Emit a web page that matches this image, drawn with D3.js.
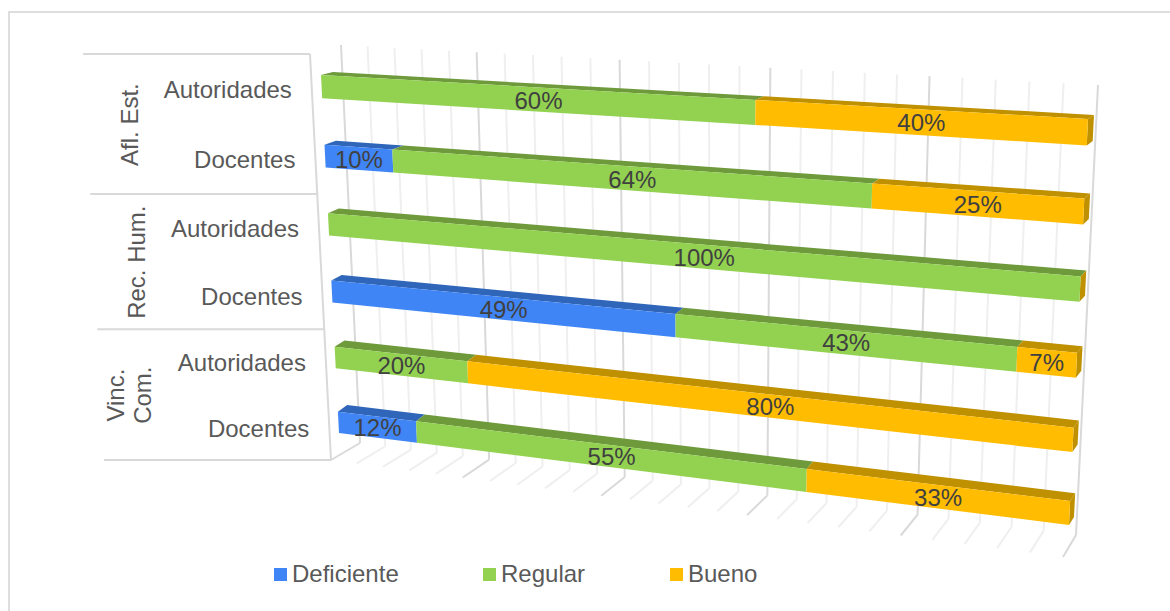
<!DOCTYPE html>
<html>
<head>
<meta charset="utf-8">
<script src="https://cdnjs.cloudflare.com/ajax/libs/d3/7.8.5/d3.min.js"></script>
<style>
  html, body { margin: 0; padding: 0; background: #fff; overflow: hidden; }
  svg { display: block; }
  text { font-family: "Liberation Sans", Arial, sans-serif; }
</style>
</head>
<body>
<svg id="chart" width="1170" height="611"></svg>
<script>
// Survey results, one row per respondent type within each dimension
const rows = ["Autoridades", "Docentes", "Autoridades", "Docentes", "Autoridades", "Docentes"];
const rowKeys = ["a0", "d0", "a1", "d1", "a2", "d2"];
const groups = [["Afl. Est."], ["Rec. Hum."], ["Vinc.", "Com."]];
const seriesNames = ["Deficiente", "Regular", "Bueno"];
const deficiente = [0, 10, 0, 49, 0, 12];
const regular = [60, 64, 100, 43, 20, 55];
const bueno = [40, 25, 0, 7, 80, 33];
const gridTicks = d3.range(0, 101, 4);
const majorEvery = 5;

const frontColors = ["#4085F5", "#92D250", "#FFBC00"];
const topColors = ["#2F66B9", "#6E9A3C", "#BF9000"];
const sideColor = "#BF9000";
const gridMinor = "#EFEFEF";
const gridMajor = "#D9D9D9";
const textDark = "#404040";
const textAxis = "#595959";
const fontSize = 24;

// Maps the unit square onto a quadrilateral [tl, tr, br, bl] with a projective transform
function projective([p0, p1, p2, p3]) {
  const dx1 = p1[0] - p2[0], dx2 = p3[0] - p2[0], sx = p0[0] - p1[0] + p2[0] - p3[0];
  const dy1 = p1[1] - p2[1], dy2 = p3[1] - p2[1], sy = p0[1] - p1[1] + p2[1] - p3[1];
  const det = dx1 * dy2 - dx2 * dy1;
  const g = (sx * dy2 - dx2 * sy) / det;
  const h = (dx1 * sy - sx * dy1) / det;
  const a = p1[0] - p0[0] + g * p1[0], b = p3[0] - p0[0] + h * p3[0], c = p0[0];
  const d = p1[1] - p0[1] + g * p1[1], e = p3[1] - p0[1] + h * p3[1], f = p0[1];
  return (u, v) => {
    const w = g * u + h * v + 1;
    return [(a * u + b * v + c) / w, (d * u + e * v + f) / w];
  };
}

// Planes of the 3D scene: back wall, front edge of the floor, and the bar faces
const wallBack = projective([[341, 45], [1098, 85], [1076, 535], [360, 443]]);
const wallFront = projective([[310, 54], [1083, 97], [1063, 557], [331, 460]]);
const barFront = projective([[321, 75], [1088, 119], [1069, 525], [339, 433]]);
const barBack = projective([[333, 72], [1094, 115], [1074, 517], [348, 426]]);

const x = d3.scaleLinear().domain([0, 100]).range([0, 1]);
const axisY = d3.scaleBand().domain(rowKeys).range([0, 1]);
// Bars leave a wide gap; the top of the first bar and bottom of the last span the full plane
const barY = d3.scaleBand().domain(rowKeys).range([0, 1]).paddingInner(0.67).paddingOuter(0);

const table = rowKeys.map((key, i) => ({
  key, Deficiente: deficiente[i], Regular: regular[i], Bueno: bueno[i]
}));
const stacked = d3.stack().keys(seriesNames).offset(d3.stackOffsetExpand)(table);

const svg = d3.select("#chart");
const line = d3.line();
const poly = pts => line(pts) + "Z";

// Chart frame: only the top and left edges fall inside the page
svg.append("path")
  .attr("d", line([[9, 611], [9, 12], [1170, 12]]))
  .attr("fill", "none").attr("stroke", "#DEDEDE").attr("stroke-width", 2);

// Grid on the back wall and floor
const grid = svg.append("g").attr("fill", "none");
gridTicks.forEach((t, i) => {
  const u = x(t), major = i % majorEvery === 0;
  grid.append("path")
    .attr("d", line([wallBack(u, 0), wallBack(u, 1)]) + "M" + wallBack(u, 1) + "L" + wallFront(u, 1))
    .attr("stroke", major ? gridMajor : gridMinor)
    .attr("stroke-width", 2);
});

// Left wall edge and the category dividers of the multi-level axis
const axisLines = svg.append("g").attr("fill", "none").attr("stroke", gridMajor).attr("stroke-width", 2);
axisLines.append("path").attr("d", line([wallFront(0, 0), wallFront(0, 1)]));
const dividerLength = 227;
[0, 2, 4, 6].forEach(n => {
  const p = wallFront(0, n / 6);
  axisLines.append("path").attr("d", line([[p[0] - dividerLength, p[1]], p]));
});

// Stacked bars: top faces, then end cap, then front faces
const bars = svg.append("g");
stacked.forEach((layer, s) => {
  layer.forEach(seg => {
    const y0 = barY(seg.data.key);
    const u0 = seg[0], u1 = seg[1];
    if (u1 <= u0) return;
    bars.append("path")
      .attr("d", poly([barFront(u0, y0), barFront(u1, y0), barBack(u1, y0), barBack(u0, y0)]))
      .attr("fill", topColors[s]);
  });
});
rowKeys.forEach(key => {
  const y0 = barY(key), y1 = y0 + barY.bandwidth();
  bars.append("path")
    .attr("d", poly([barFront(1, y0), barBack(1, y0), barBack(1, y1), barFront(1, y1)]))
    .attr("fill", sideColor);
});
stacked.forEach((layer, s) => {
  layer.forEach(seg => {
    const y0 = barY(seg.data.key), y1 = y0 + barY.bandwidth();
    if (seg[1] <= seg[0]) return;
    bars.append("path")
      .attr("d", poly([barFront(seg[0], y0), barFront(seg[1], y0), barFront(seg[1], y1), barFront(seg[0], y1)]))
      .attr("fill", frontColors[s]);
  });
});

// Percentage labels centred on each front face
const labels = svg.append("g")
  .attr("fill", textDark).attr("font-size", fontSize)
  .attr("text-anchor", "middle");
stacked.forEach(layer => {
  layer.forEach(seg => {
    const value = seg.data[layer.key];
    if (!value) return;
    const ym = barY(seg.data.key) + barY.bandwidth() / 2;
    const [a, b] = [barFront(seg[0], ym), barFront(seg[1], ym)];
    labels.append("text")
      .attr("x", (a[0] + b[0]) / 2)
      .attr("y", (a[1] + b[1]) / 2 + 9)
      .text(value + "%");
  });
});

// Row labels, right-aligned against the slanted axis
const rowLabels = svg.append("g")
  .attr("fill", textAxis).attr("font-size", fontSize).attr("text-anchor", "end");
rowKeys.forEach((key, i) => {
  const p = wallFront(0, axisY(key) + axisY.bandwidth() / 2);
  rowLabels.append("text").attr("x", p[0] - 20).attr("y", p[1] + 9).text(rows[i]);
});

// Rotated group labels on the outer axis level; wrapped labels sit further out
const groupLabels = svg.append("g")
  .attr("fill", textAxis).attr("font-size", fontSize).attr("text-anchor", "middle");
const lineHeight = 27;
const groupOffset = 184;
const wrapOffset = 14;
groups.forEach((lines, i) => {
  const p = wallFront(0, (2 * i + 1) / 6);
  const cx = p[0] - groupOffset - (lines.length > 1 ? wrapOffset : 0);
  lines.forEach((txt, j) => {
    const lx = cx + (j - (lines.length - 1) / 2) * lineHeight + 8;
    groupLabels.append("text")
      .attr("transform", `translate(${lx},${p[1]}) rotate(-90)`)
      .text(txt);
  });
});

// Legend
const legendX = [274, 483, 670];
const legend = svg.append("g");
seriesNames.forEach((name, i) => {
  legend.append("rect")
    .attr("x", legendX[i]).attr("y", 568).attr("width", 13).attr("height", 13)
    .attr("fill", frontColors[i]);
  legend.append("text")
    .attr("x", legendX[i] + 18).attr("y", 582)
    .attr("fill", textAxis).attr("font-size", fontSize)
    .text(name);
});
</script>
</body>
</html>
